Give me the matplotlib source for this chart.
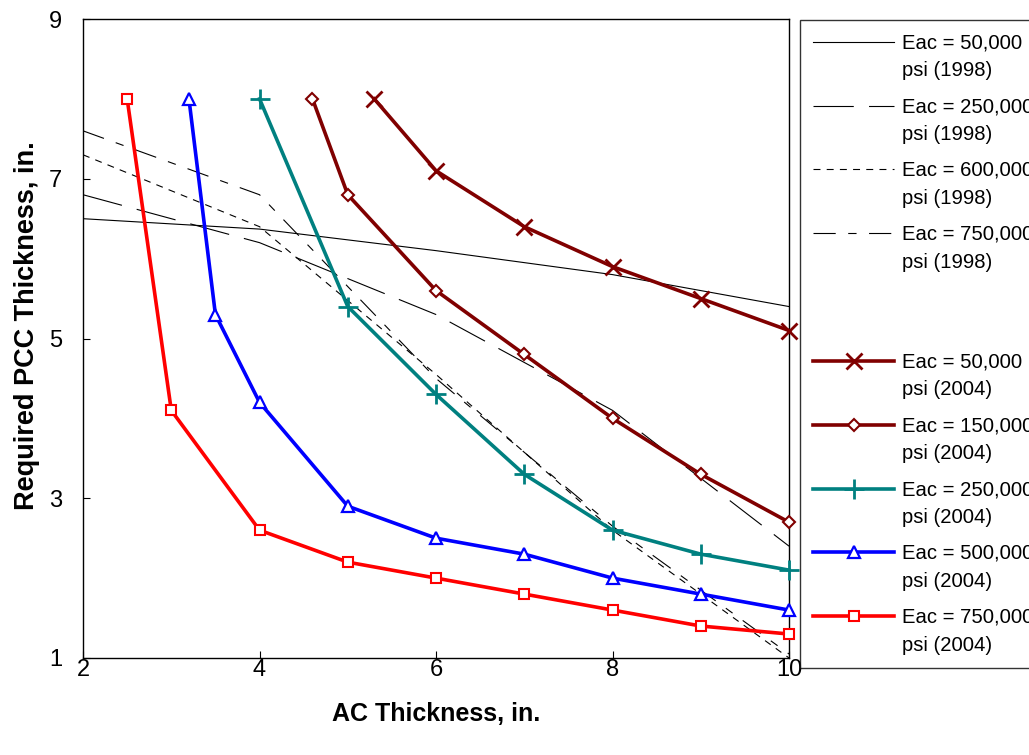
import matplotlib.pyplot as plt
from matplotlib.lines import Line2D

plt.rcParams['font.family'] = ['Liberation Sans', 'DejaVu Sans']
plt.rcParams['lines.scale_dashes'] = False

# 1998 design curves
x98 = [2, 4, 6, 8, 10]
e50_98 = [6.5, 6.37, 6.1, 5.8, 5.4]
e250_98 = [6.8, 6.2, 5.3, 4.1, 2.4]
e600_98 = [7.3, 6.4, 4.55, 2.6, 1.0]
e750_98 = [7.6, 6.8, 4.5, 2.65, 1.05]

# 2004 design curves
x50_04 = [5.3, 6, 7, 8, 9, 10]
e50_04 = [8.0, 7.1, 6.4, 5.9, 5.5, 5.1]
x150_04 = [4.6, 5, 6, 7, 8, 9, 10]
e150_04 = [8.0, 6.8, 5.6, 4.8, 4.0, 3.3, 2.7]
x250_04 = [4, 5, 6, 7, 8, 9, 10]
e250_04 = [8.0, 5.4, 4.3, 3.3, 2.6, 2.3, 2.1]
x500_04 = [3.2, 3.5, 4, 5, 6, 7, 8, 9, 10]
e500_04 = [8.0, 5.3, 4.2, 2.9, 2.5, 2.3, 2.0, 1.8, 1.6]
x750_04 = [2.5, 3, 4, 5, 6, 7, 8, 9, 10]
e750_04 = [8.0, 4.1, 2.6, 2.2, 2.0, 1.8, 1.6, 1.4, 1.3]

labels98 = ['Eac = 50,000\npsi (1998)', 'Eac = 250,000\npsi (1998)',
            'Eac = 600,000\npsi (1998)', 'Eac = 750,000\npsi (1998)']
labels04 = ['Eac = 50,000\npsi (2004)', 'Eac = 150,000\npsi (2004)',
            'Eac = 250,000\npsi (2004)', 'Eac = 500,000\npsi (2004)',
            'Eac = 750,000\npsi (2004)']

fig = plt.figure(figsize=(10.29, 7.55), dpi=100)
ax = fig.add_axes([0.0807, 0.1285, 0.6861, 0.8463])

thin = dict(color='black', lw=0.8)
h1, = ax.plot(x98, e50_98, label=labels98[0], **thin)
h2, = ax.plot(x98, e250_98, label=labels98[1], dashes=(29, 11), **thin)
h3, = ax.plot(x98, e600_98, label=labels98[2], dashes=(5, 4.5), **thin)
h4, = ax.plot(x98, e750_98, label=labels98[3], dashes=(16, 9, 6, 9), **thin)

thick = dict(lw=2.6, clip_on=False, zorder=5)
h5, = ax.plot(x50_04, e50_04, color='#800000', marker='x', ms=12, mew=2,
              label=labels04[0], **thick)
h6, = ax.plot(x150_04, e150_04, color='#800000', marker='D', ms=6.5, mew=1.5,
              mfc='white', label=labels04[1], **thick)
h7, = ax.plot(x250_04, e250_04, color='#008080', marker='+', ms=14, mew=2,
              label=labels04[2], **thick)
h8, = ax.plot(x500_04, e500_04, color='#0000FF', marker='^', ms=9, mew=1.6,
              mfc='white', label=labels04[3], **thick)
h9, = ax.plot(x750_04, e750_04, color='#FF0000', marker='s', ms=7, mew=1.5,
              mfc='white', label=labels04[4], **thick)

ax.set_xlim(2, 10)
ax.set_ylim(1, 9)
ax.set_xticks([2, 4, 6, 8, 10])
ax.set_yticks([1, 3, 5, 7, 9])
ax.tick_params(direction='in', length=5, width=0.8, labelsize=17)
ax.tick_params(axis='x', pad=1)
ax.tick_params(axis='y', pad=15)
for s in ax.spines.values():
    s.set_linewidth(1.0)

ax.set_xlabel('AC Thickness, in.', fontsize=18, fontweight='bold', labelpad=15)
ax.set_ylabel('Required PCC Thickness, in.', fontsize=19.5, fontweight='bold')
ax.yaxis.set_label_coords(-0.061, 0.52)

# legend runs off the right edge of the figure, as in the original
blank = Line2D([], [], color='none')
handles = [h1, h2, h3, h4, blank, h5, h6, h7, h8, h9]
labs = labels98 + [' \n '] + labels04
leg = fig.legend(handles, labs, loc='upper left', bbox_to_anchor=(0.7775, 0.9735),
                 borderaxespad=0, fontsize=14.6, frameon=True, fancybox=False,
                 edgecolor='black', handlelength=4.0, handleheight=1.2,
                 handletextpad=0.4, labelspacing=0.83, borderpad=0.65)
leg.get_frame().set_linewidth(1.0)
for t in leg.get_texts():
    t.set_linespacing(1.6)
# put each handle level with the first text line
for col in leg._legend_handle_box.get_children():
    for row in col.get_children():
        row.align = 'top'

plt.savefig('out.png', dpi=100)
